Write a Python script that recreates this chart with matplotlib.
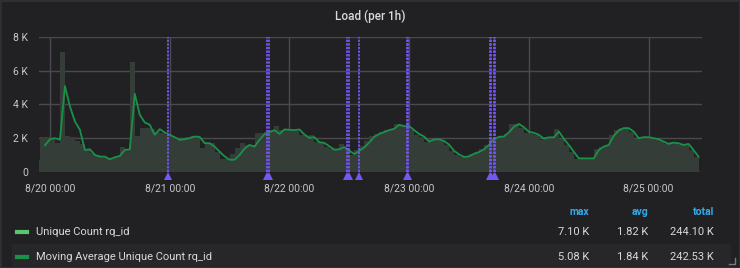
import matplotlib
matplotlib.use("Agg")
import matplotlib.pyplot as plt
from matplotlib.patches import Rectangle
from matplotlib.lines import Line2D
import matplotlib.transforms as mtransforms

plt.rcParams['font.family'] = ['Roboto', 'DejaVu Sans']

# hours relative to 8/20 00:00; each bar covers the hour ending at its timestamp
bar_hours = list(range(-2, 131))
unique_count = [
    690, 2080, 2050, 2000, 1680, 7100, 2120, 2040, 1800, 1620,
    1300, 1100, 980, 880, 800, 820, 900, 1480, 1280, 6500,
    2120, 2580, 2580, 2500, 2320, 2280, 2180, 2040, 1880, 1920,
    2040, 2120, 2080, 1400, 1680, 1680, 1180, 730, 730, 1050,
    1380, 1680, 1580, 1580, 2280, 2280, 2320, 2480, 2680, 2480,
    2480, 2440, 2380, 2200, 2140, 2200, 1780, 1720, 1480, 1340,
    1280, 1620, 1400, 1000, 1250, 1500, 1800, 2100, 2250, 2350,
    2450, 2550, 2850, 2700, 2650, 2450, 2200, 2050, 1780, 1950,
    1950, 1900, 1600, 1200, 1000, 850, 850, 1050, 1150, 1350,
    1600, 1900, 2050, 2100, 2250, 2850, 2850, 2600, 2300, 2250,
    2150, 1900, 2050, 2050, 2550, 1950, 1550, 1150, 750, 780,
    780, 780, 1350, 1450, 1500, 2150, 2450, 2600, 2550, 2350,
    1950, 2050, 2050, 2000, 1900, 1800, 1650, 1750, 1700, 1600,
    1650, 1300, 850,
]

ma_hours = list(range(-1, 131))
moving_avg = [
    1560, 1920, 1980, 1890, 5080, 3870, 2975, 2480, 1280, 1320,
    985, 885, 885, 726, 845, 925, 1280, 1320, 4620, 3370,
    2920, 2780, 2180, 2520, 2320, 2180, 2040, 1880, 1920, 1980,
    2080, 2060, 1690, 1680, 1480, 1180, 900, 700, 700, 980,
    1360, 1580, 1480, 1880, 2220, 2340, 2460, 2240, 2500, 2480,
    2460, 2500, 2200, 2000, 2040, 1740, 1700, 1500, 1300, 1320,
    1450, 1240, 1040, 1230, 1430, 1730, 2060, 2230, 2350, 2460,
    2540, 2780, 2700, 2700, 2460, 2230, 2080, 1780, 1900, 1920,
    1810, 1600, 1230, 1020, 860, 900, 1050, 1160, 1320, 1580,
    1930, 2060, 2080, 2330, 2660, 2830, 2630, 2360, 2300, 2180,
    1950, 2030, 2030, 2380, 1950, 1580, 1180, 780, 780, 780,
    780, 1280, 1480, 1580, 2120, 2440, 2580, 2580, 2380, 1980,
    2040, 2040, 1980, 1920, 1780, 1640, 1720, 1680, 1580, 1640,
    1280, 880,
]

annotation_hours = [23.65, 43.45, 43.95, 59.6, 59.95, 62.0,
                    71.55, 71.75, 88.2, 88.4, 88.95, 89.15]

day_ticks = [0, 24, 48, 72, 96, 120]
day_labels = ['8/20 00:00', '8/21 00:00', '8/22 00:00', '8/23 00:00', '8/24 00:00', '8/25 00:00']
y_ticks = [0, 2000, 4000, 6000, 8000]
y_labels = ['0', '2 K', '4 K', '6 K', '8 K']

legend_names = ['Unique Count rq_id', 'Moving Average Unique Count rq_id']
legend_max = ['7.10 K', '5.08 K']
legend_avg = ['1.82 K', '1.84 K']
legend_total = ['244.10 K', '242.53 K']

W, H = 740, 268
bg = '#212124'
fig = plt.figure(figsize=(W / 100, H / 100), dpi=100, facecolor=bg)
ax = fig.add_axes([39 / W, 1 - 171.5 / H, (702 - 39) / W, (171.5 - 37) / H])
ax.set_facecolor(bg)

ax.bar(bar_hours, unique_count, width=-1, align='edge', color='#353d38',
       linewidth=0, antialiased=False, zorder=2)
ax.plot(ma_hours, moving_avg, color='#1a9148', lw=1.3, zorder=3)

trans = mtransforms.blended_transform_factory(ax.transData, ax.transAxes)
for h in annotation_hours:
    ax.axvline(h, color='#7656f5', lw=1.3, linestyle=(0, (1.3, 0.7)), zorder=4)
    ax.plot([h], [-0.031], marker='^', markersize=6, color='#7656f5',
            markeredgewidth=0, transform=trans, clip_on=False, zorder=5)

ax.set_xlim(-2.2, 130.7)
ax.set_ylim(0, 8000)
ax.set_xticks(day_ticks)
ax.set_xticklabels(day_labels)
ax.set_yticks(y_ticks)
ax.set_yticklabels(y_labels)
ax.grid(True, color='#4a4a4e', lw=1, zorder=1)
ax.set_axisbelow(True)
for s in ax.spines.values():
    s.set_visible(False)
ax.tick_params(axis='both', length=0, colors='#c7c7c9', labelsize=7.5)
ax.tick_params(axis='x', pad=9)
ax.tick_params(axis='y', pad=8)

fig.text(0.5, 1 - 16 / H, 'Load (per 1h)', ha='center', va='center',
         color='#d8d9da', fontsize=8.5, fontweight='medium')

# legend table
fig.patches.append(Rectangle((12 / W, 1 - 266 / H), (730 - 12) / W, 22 / H,
                             transform=fig.transFigure, color='#27272a', zorder=0))
hdr_y = 1 - 212 / H
for xr, t in zip([589, 648, 714], ['max', 'avg', 'total']):
    fig.text(xr / W, hdr_y, t, ha='right', va='center', color='#33a9e8',
             fontsize=7.5, fontweight='bold')
swatch_colors = ['#5ac46f', '#1a9148']
for i, name in enumerate(legend_names):
    yy = 1 - (232 + 24.5 * i) / H
    fig.add_artist(Line2D([17 / W, 27 / W], [yy, yy], color=swatch_colors[i], lw=3,
                          transform=fig.transFigure))
    fig.text(36 / W, yy, name, ha='left', va='center', color='#d8d9da', fontsize=8)
    for xr, v in zip([589, 648, 714], [legend_max[i], legend_avg[i], legend_total[i]]):
        fig.text(xr / W, yy, v, ha='right', va='center', color='#d8d9da', fontsize=8)

# panel border and resize handle
fig.patches.append(Rectangle((0.5 / W, 0.5 / H), (W - 1) / W, (H - 1) / H,
                             transform=fig.transFigure, fill=False,
                             edgecolor='#2f2f33', lw=1.5))
fig.add_artist(Line2D([729 / W, 735 / W, 735 / W], [1 - 264 / H, 1 - 264 / H, 1 - 258 / H],
                      color='#7a7a7e', lw=1, transform=fig.transFigure))

fig.savefig('out.png', dpi=100, facecolor=bg)
